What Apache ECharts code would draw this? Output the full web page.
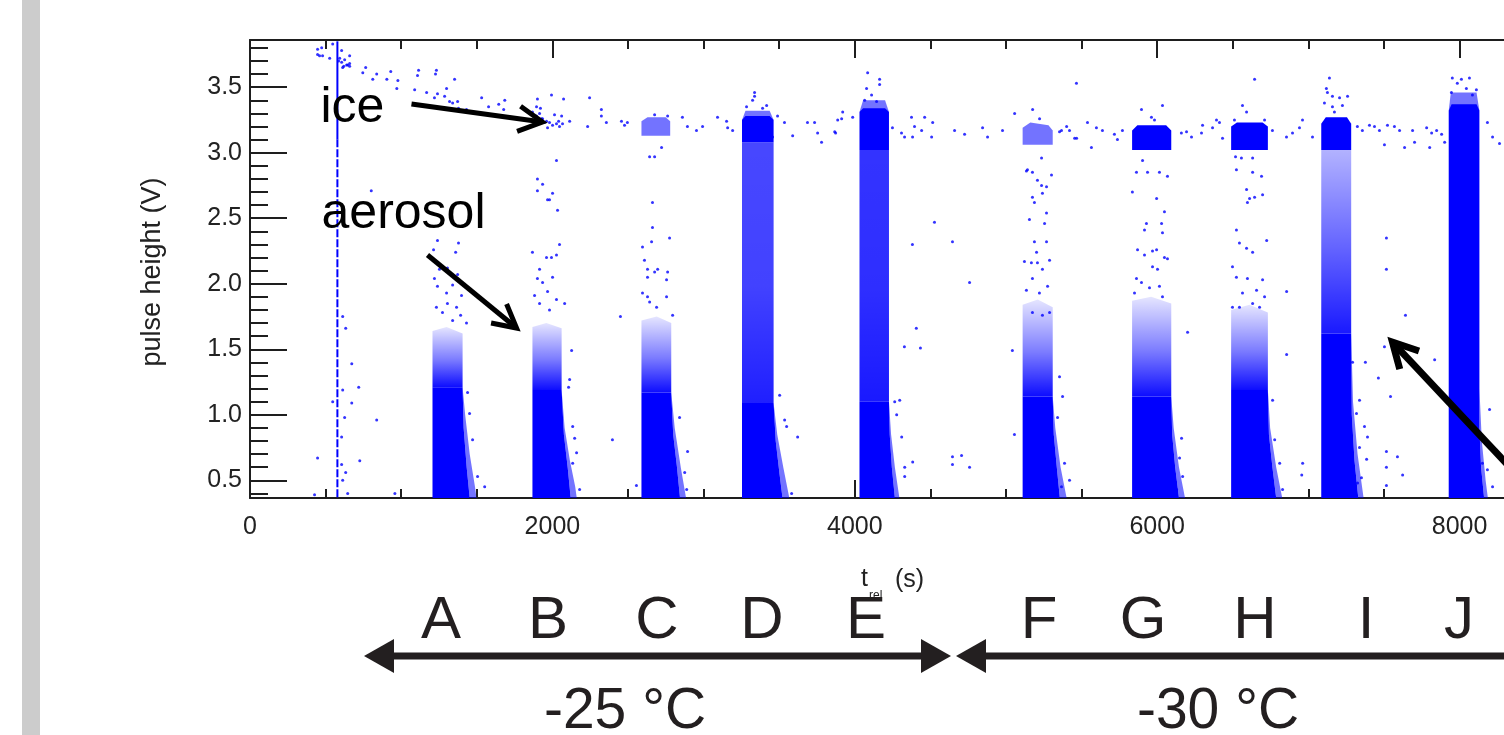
<!DOCTYPE html>
<html><head><meta charset="utf-8">
<script src="https://cdn.jsdelivr.net/npm/echarts@6/dist/echarts.min.js"></script>
<style>html,body{margin:0;padding:0;background:#fff;}#c{width:1504px;height:735px;}</style>
</head><body><div id="c"></div>
<script>
// ---------- axis ticks ----------
const yMajorTicks = [0.5, 1.0, 1.5, 2.0, 2.5, 3.0, 3.5];
const yMinorTicks = [0.4,0.6,0.7,0.8,0.9,1.1,1.2,1.3,1.4,1.6,1.7,1.8,1.9,2.1,2.2,2.3,2.4,2.6,2.7,2.8,2.9,3.1,3.2,3.3,3.4,3.6,3.7,3.8];
const runLetters = ['A','B','C','D','E','F','G','H','I','J'];
const tempLabels = ['-25 °C', '-30 °C'];

// ---------- dense point clouds (outlines, t in s, V) ----------
const denseCores = [
  [[1207,0.365],[1207,1.21],[1406,1.21],[1413,0.9],[1433,0.6],[1453,0.365]],
  [[1868,0.365],[1868,1.19],[2061,1.19],[2076,0.85],[2101,0.6],[2121,0.365]],
  [[2589,0.365],[2589,1.17],[2786,1.17],[2799,0.85],[2824,0.6],[2844,0.365]],
  [[3254,0.365],[3254,1.09],[3463,1.09],[3477,0.8],[3502,0.55],[3522,0.365]],
  [[4031,0.365],[4031,1.10],[4226,1.10],[4231,0.85],[4245,0.6],[4265,0.365]],
  [[5110,0.365],[5110,1.14],[5309,1.14],[5316,0.85],[5336,0.6],[5356,0.365]],
  [[5834,0.365],[5834,1.14],[6093,1.14],[6099,0.85],[6119,0.6],[6144,0.365]],
  [[6489,0.365],[6489,1.19],[6732,1.19],[6739,0.85],[6762,0.6],[6787,0.365]],
  [[7085,0.365],[7085,1.62],[7283,1.62],[7287,1.0],[7305,0.65],[7330,0.365]],
  [[7928,0.365],[7928,3.32],[7947,3.37],[8112,3.37],[8131,3.32],[8131,0.9],[8142,0.6],[8162,0.365]]
];
const iceCores = [
  [[3254,3.08],[3254,3.25],[3277,3.28],[3437,3.28],[3463,3.25],[3463,3.08]],
  [[4031,3.02],[4031,3.31],[4055,3.34],[4200,3.34],[4226,3.31],[4226,3.02]],
  [[5834,3.02],[5834,3.17],[5869,3.21],[6059,3.21],[6093,3.17],[6093,3.02]],
  [[6489,3.02],[6489,3.20],[6527,3.23],[6697,3.23],[6732,3.20],[6732,3.02]],
  [[7085,3.02],[7085,3.22],[7115,3.27],[7255,3.27],[7283,3.22],[7283,3.02]]
];
// speckled zone above each aerosol core, thinning out upwards
const fadePolys = [
  [[1207,1.21],[1207,1.64],[1300,1.67],[1406,1.62],[1406,1.21]],
  [[1868,1.19],[1868,1.67],[1960,1.70],[2061,1.66],[2061,1.19]],
  [[2589,1.17],[2589,1.72],[2690,1.75],[2786,1.70],[2786,1.17]],
  [[5110,1.14],[5110,1.84],[5210,1.88],[5309,1.82],[5309,1.14]],
  [[5834,1.14],[5834,1.87],[5960,1.90],[6093,1.85],[6093,1.14]],
  [[6489,1.19],[6489,1.80],[6610,1.84],[6732,1.78],[6732,1.19]]
];
// tall speckled columns of runs D, E and I
const columnPolys = [
  [[3254,1.09],[3254,3.08],[3463,3.08],[3463,1.09]],
  [[4031,1.10],[4031,3.02],[4226,3.02],[4226,1.10]],
  [[7085,1.62],[7085,3.02],[7283,3.02],[7283,1.62]]
];
// right-hand tails and smaller speckled clusters
const midPolys = [
  [[1406,1.21],[1423,1.0],[1453,0.7],[1488,0.45],[1498,0.365],[1453,0.365],[1433,0.6],[1413,0.9]],
  [[2061,1.19],[2081,0.9],[2116,0.65],[2151,0.45],[2161,0.365],[2121,0.365],[2101,0.6],[2076,0.85]],
  [[2786,1.17],[2809,0.9],[2849,0.6],[2884,0.365],[2844,0.365],[2824,0.6],[2799,0.85]],
  [[2589,3.13],[2589,3.24],[2629,3.27],[2749,3.27],[2779,3.24],[2779,3.13]],
  [[3463,1.09],[3487,0.85],[3527,0.6],[3567,0.365],[3522,0.365],[3502,0.55],[3477,0.8]],
  [[3254,3.25],[3277,3.32],[3437,3.32],[3463,3.25]],
  [[4226,1.10],[4240,0.85],[4265,0.6],[4295,0.365],[4265,0.365],[4245,0.6],[4231,0.85]],
  [[5309,1.14],[5326,0.9],[5361,0.6],[5401,0.365],[5356,0.365],[5336,0.6],[5316,0.85]],
  [[5110,3.06],[5110,3.19],[5161,3.23],[5281,3.21],[5309,3.17],[5309,3.06]],
  [[6093,1.14],[6109,0.9],[6144,0.6],[6184,0.365],[6144,0.365],[6119,0.6],[6099,0.85]],
  [[6732,1.19],[6747,0.9],[6787,0.6],[6827,0.365],[6787,0.365],[6762,0.6],[6739,0.85]],
  [[7283,1.62],[7295,1.1],[7325,0.7],[7365,0.365],[7330,0.365],[7305,0.65],[7287,1.0]],
  [[7928,3.32],[7942,3.46],[8112,3.46],[8131,3.32]],
  [[8131,1.2],[8147,0.8],[8172,0.5],[8187,0.365],[8162,0.365],[8142,0.6],[8131,0.9]],
  [[4031,3.31],[4055,3.40],[4200,3.40],[4226,3.31]]
];

// ---------- vertical trace at t ≈ 578 s ----------
const spikeSolid = [[578,3.10],[578,3.85]];
const spikeDashed = [[578,0.37],[578,3.10]];

// ---------- individual sparse points ----------
const icePts = [
  [460,3.74],[474,3.80],[480,3.74],[527,3.72],[547,3.83],[606,3.78],[659,3.74],[613,3.65],[639,3.67],[659,3.66],[586,3.70],
  [746,3.61],[765,3.65],[812,3.56],[838,3.60],[905,3.56],[931,3.62],[978,3.55],[971,3.49],[1089,3.48],[1108,3.59],[1115,3.63],
  [1233,3.63],[1227,3.60],[1168,3.46],[1240,3.45],[1220,3.42],[1300,3.49],[1287,3.43],[1320,3.39],[1353,3.56],[1340,3.38],
  [1373,3.39],[1379,3.34],[1432,3.33],[1532,3.42],[1578,3.35],[1645,3.37],[1685,3.40],[1678,3.33],[1895,3.35],[1901,3.41],
  [1921,3.34],[1994,3.44],[2074,3.41],[2114,3.24],[2246,3.42],[2233,3.20],[2324,3.33],[2324,3.28],[2357,3.23],[2457,3.24],
  [2477,3.21],[2496,3.23],
  [593,3.72],[606,3.69],[626,3.71],[646,3.67],[620,3.66],[659,3.68],[447,3.79],[447,3.75],
  [1868,3.31],[1895,3.28],[1915,3.30],[1935,3.26],[1961,3.24],[1981,3.23],[2001,3.21],[2027,3.22],[2041,3.24],[2061,3.28],
  [2014,3.29],[1968,3.19],[1948,3.23],[1928,3.26],[1895,3.24],[2047,3.20],[2067,3.22],
  [2643,2.97],[2676,2.97],[2722,3.04],[2676,3.29],[2762,3.28],
  [2860,3.27],[2893,3.20],[2953,3.17],[2993,3.20],[3092,3.27],[3152,3.24],[3159,3.19],[3192,3.17],
  [3284,3.35],[3337,3.43],[3324,3.40],[3390,3.34],[3417,3.36],[3337,3.46],[3489,3.28],[3589,3.13],[3456,3.12],
  [3535,3.23],[3687,3.23],[3734,3.23],[3754,3.15],[3780,3.08],[3867,3.16],[3887,3.25],[3920,3.31],[3913,3.26],[3986,3.27],[3873,3.15],
  [4085,3.61],[4164,3.56],[4164,3.52],[4078,3.49],[4144,3.39],[4065,3.40],[4111,3.44],
  [4249,3.19],[4309,3.15],[4329,3.12],[4375,3.27],[4395,3.20],[4442,3.17],[4462,3.27],[4515,3.23],[4382,3.12],[4508,3.12],
  [4660,3.17],[4726,3.14],[4845,3.19],[4878,3.12],
  [4977,3.17],[5057,3.30],[5176,3.33],[5222,3.26],[5367,3.17],[5401,3.20],[5454,3.11],[5354,3.16],[5420,3.17],[5467,3.11],
  [5539,3.23],[5598,3.19],[5638,3.17],[5565,3.04],[5717,3.14],[5737,3.10],[5770,3.17],[5466,3.53],
  [5896,3.33],[6035,3.36],[5962,3.27],[5982,3.25],
  [6160,3.15],[6194,3.16],[6227,3.12],[6300,3.21],[6366,3.19],[6412,3.23],[6432,3.11],[6293,3.15],[6392,3.25],
  [6644,3.56],[6564,3.36],[6591,3.31],[6511,3.25],[6710,3.25],
  [6762,3.17],[6855,3.12],[6895,3.15],[6961,3.25],[7027,3.12],[6941,3.19],
  [7139,3.57],[7119,3.49],[7126,3.46],[7159,3.43],[7206,3.42],[7259,3.43],[7106,3.38],[7159,3.35],[7225,3.36],[7172,3.31],
  [7324,3.20],[7357,3.17],[7404,3.21],[7437,3.20],[7470,3.17],[7523,3.21],[7503,3.06],[7569,3.20],[7603,3.17],[7636,3.04],
  [7689,3.17],[7702,3.08],[7782,3.19],[7815,3.15],[7802,3.04],[7848,3.17],[7881,3.14],[7901,3.08],
  [7952,3.57],[8012,3.56],[8065,3.57],[7985,3.53],[8045,3.49],[8111,3.48],[7946,3.46],[8085,3.44],
  [8184,3.23],[8218,3.12],[8264,3.07],
  [673,3.27],[802,2.71]
];
const aerosolPts = [
  [1240,2.33],[1379,2.31],[1360,2.24],[1214,2.26],[1253,2.11],[1306,2.12],[1373,2.07],[1220,2.04],[1240,1.98],[1300,1.93],
  [1340,1.99],[1399,1.91],[1233,1.82],[1306,1.85],[1366,1.82],[1393,1.76],[1273,1.78],[1340,1.72],[1432,1.70],[1439,1.17],
  [1452,1.01],[1472,0.81],[1505,0.53],[1552,0.45],
  [1868,2.24],[2027,2.22],[1961,2.20],[1994,2.20],[2047,2.30],[2034,2.56],[1981,2.64],[1915,2.11],[2001,2.05],[1901,2.04],
  [1935,2.01],[1882,1.91],[1968,1.94],[2081,1.85],[2027,1.88],[1915,1.85],[1981,1.80],[2127,1.49],[2114,1.27],[2107,1.21],
  [2134,0.91],[2147,0.82],[2160,0.71],[2134,0.63],[2180,0.43],[1901,2.80],[1935,2.76],[1901,2.71],[1968,2.64],[2001,2.69],[2027,2.94],
  [2596,2.28],[2609,2.18],[2629,2.11],[2676,2.09],[2696,2.11],[2762,2.09],[2755,2.03],[2629,2.05],[2596,1.93],[2629,1.90],
  [2643,1.86],[2689,1.82],[2755,1.90],[2795,1.76],[2662,2.43],[2656,2.32],[2775,2.35],[2662,2.62],[2450,1.75],[2397,0.81],
  [2841,0.98],[2894,0.72],[2875,0.56],[2888,0.43],[2556,0.46],
  [3503,1.15],[3536,0.96],[3549,0.91],[3582,0.40],[3622,0.83],
  [4264,1.10],[4297,1.11],[4277,1.00],[4310,0.83],[4330,0.60],[4383,0.64],[4330,0.53],
  [4527,2.47],[4381,2.30],[4646,2.32],[4759,2.01],[4407,1.66],[4328,1.52],[4434,1.51],[4646,0.68],[4706,0.69],[4646,0.62],[4759,0.60],
  [5142,2.87],[5175,2.85],[5301,2.83],[5208,2.79],[5235,2.75],[5268,2.74],[5241,2.69],[5175,2.66],[5188,2.62],[5268,2.54],
  [5155,2.49],[5255,2.46],[5188,2.32],[5268,2.32],[5202,2.24],[5122,2.17],[5168,2.16],[5208,2.16],[5241,2.11],[5288,2.18],
  [5175,2.04],[5275,1.98],[5135,1.95],[5221,1.93],[5175,1.78],[5241,1.76],[5288,1.78],[5235,2.96],[5135,2.86],[5354,1.29],
  [5374,1.14],[5341,0.98],[5387,0.63],[5420,0.50],[5367,0.45],[5056,0.85],[5042,1.49],
  [5903,2.94],[5863,2.85],[5936,2.85],[6015,2.85],[6068,2.82],[5836,2.70],[5996,2.65],[6048,2.55],[6029,2.46],[5929,2.46],
  [6035,2.39],[5916,2.41],[5870,2.26],[5969,2.25],[5996,2.26],[5916,2.22],[6048,2.20],[6068,2.19],[5863,2.04],[5969,2.13],
  [6002,2.11],[5896,2.01],[5949,1.97],[5850,1.93],[6035,1.90],[6015,1.98],[6201,1.63],[6161,0.82],[6148,0.67],[6168,0.53],[6128,0.43],
  [6557,2.96],[6631,2.96],[6518,2.97],[6524,2.87],[6631,2.85],[6690,2.82],[6591,2.72],[6611,2.65],[6644,2.66],[6697,2.68],
  [6597,2.62],[6524,2.41],[6544,2.31],[6591,2.27],[6631,2.24],[6724,2.33],[6498,2.13],[6524,2.05],[6597,2.04],[6697,2.03],
  [6657,1.95],[6564,1.93],[6710,1.90],[6498,1.82],[6544,1.82],[6631,1.85],[6677,1.82],[6856,1.94],[6856,1.46],[6763,1.11],
  [6777,0.81],[6810,0.63],[6829,0.43],[6962,0.63],[6956,0.54],
  [7292,1.40],[7338,1.11],[7318,1.01],[7371,0.91],[7338,0.75],[7385,0.66],[7351,0.52],[7325,0.48],[7391,0.83],
  [7516,2.35],[7516,2.11],[7642,1.76],[7503,1.52],[7835,1.42],[7377,1.40],[7463,1.28],[7543,1.14],[7516,0.72],[7589,0.68],
  [7516,0.46],[7623,0.54],[7516,0.60],
  [8198,1.04],[8184,0.58],[8218,0.45],[8151,0.63],
  [613,1.75],[633,1.66],[673,1.39],[613,1.19],[719,1.21],[547,1.10],[673,1.09],[626,0.98],[838,0.96],[606,0.83],
  [447,0.67],[726,0.65],[606,0.62],[633,0.56],[613,0.50],[427,0.39],[646,0.40],[958,0.40]
];

// ---------- annotation anchors (data coordinates) ----------
const iceArrow = [[1068,3.372],[1934,3.234]];
const aerosolArrow = [[1174,2.219],[1763,1.662]];
const rightArrow = [[8462,0.441],[7556,1.555]];
const iceLabelAt = [466,3.337];
const aerosolLabelAt = [473,2.528];

// ---------- chart ----------
const BLUE = '#0000ff';
const AX = '#1e1e1e';
const FONT = '"Liberation Sans", Arial, sans-serif';
const chart = echarts.init(document.getElementById('c'), null, {renderer:'canvas'});
const LG = echarts.graphic.LinearGradient;
const grad = (top, mid, bottom) => new LG(0, 0, 0, 1, [
  {offset:0, color:'rgba(0,0,255,' + top + ')'},
  {offset:0.55, color:'rgba(0,0,255,' + mid + ')'},
  {offset:1, color:'rgba(0,0,255,' + bottom + ')'}
]);

function polySeries(name, polys, fillFn, z){
  return {
    name, type:'custom', xAxisIndex:0, yAxisIndex:0, silent:true, animation:false, clip:true, z,
    data: polys.map(p => p[0]),
    renderItem: (params, api) => ({
      type:'polygon',
      shape:{points: polys[params.dataIndex].map(pt => api.coord(pt))},
      style:{fill: fillFn(params.dataIndex), stroke: null}
    })
  };
}
const columnFills = [grad(0.72, 0.74, 0.88), grad(0.8, 0.82, 0.9), grad(0.3, 0.62, 0.9)];

const lineStyle = {color: AX, width: 2};
const xCommon = {
  type:'value', min:0, max:10000, interval:2000,
  axisLine:{show:true, onZero:false, lineStyle},
  axisTick:{show:true, inside:true, length:18, lineStyle},
  minorTick:{show:true, splitNumber:4, length:9, lineStyle},
  splitLine:{show:false}, minorSplitLine:{show:false}
};

const option = {
  animation:false,
  backgroundColor:'#ffffff',
  textStyle:{fontFamily: FONT},
  grid:{left:250, top:40, width:1512, height:458, containLabel:false, outerBoundsMode:'none'},
  xAxis:[
    Object.assign({}, xCommon, {position:'bottom',
      axisLabel:{show:true, color:'#222', fontSize:25, fontFamily:FONT, margin:17, formatter: v => String(v)}}),
    Object.assign({}, xCommon, {position:'top', axisLabel:{show:false}})
  ],
  yAxis:[
    {type:'value', position:'left', min:0.365, max:3.86,
     axisLine:{show:true, onZero:false, lineStyle},
     axisTick:{show:true, inside:true, length:37, customValues: yMajorTicks, lineStyle},
     axisLabel:{show:true, customValues: yMajorTicks, formatter: v => Number(v).toFixed(1),
                color:'#222', fontSize:25, fontFamily:FONT, margin:8},
     splitLine:{show:false}},
    {type:'value', position:'left', min:0.365, max:3.86,
     axisLine:{show:false},
     axisTick:{show:true, inside:true, length:18, customValues: yMinorTicks, lineStyle},
     axisLabel:{show:false}, splitLine:{show:false}}
  ],
  series:[
    polySeries('fade', fadePolys, () => grad(0.1, 0.52, 0.95), 1),
    polySeries('column', columnPolys, i => columnFills[i], 2),
    polySeries('mid', midPolys, () => 'rgba(0,0,255,0.55)', 2),
    polySeries('core', denseCores, () => BLUE, 4),
    polySeries('iceCore', iceCores, () => BLUE, 4),
    {type:'line', data: spikeSolid, xAxisIndex:0, yAxisIndex:0, showSymbol:false, silent:true, z:5,
     lineStyle:{color:BLUE, width:2}},
    {type:'line', data: spikeDashed, xAxisIndex:0, yAxisIndex:0, showSymbol:false, silent:true, z:5,
     lineStyle:{color:BLUE, width:2, type:[8,2]}},
    {type:'scatter', data: icePts, xAxisIndex:0, yAxisIndex:0, symbol:'circle', symbolSize:3, silent:true, z:6,
     itemStyle:{color:BLUE}},
    {type:'scatter', data: aerosolPts, xAxisIndex:0, yAxisIndex:0, symbol:'circle', symbolSize:3, silent:true, z:6,
     itemStyle:{color:BLUE}}
  ]
};
chart.setOption(option);

// ---------- annotations ----------
const toPx = p => chart.convertToPixel({gridIndex:0}, p);
function arrow(fromD, toD, width, headLen, headAng){
  const f = toPx(fromD), t = toPx(toD);
  const a = Math.atan2(t[1]-f[1], t[0]-f[0]);
  const p1 = [t[0]-headLen*Math.cos(a-headAng), t[1]-headLen*Math.sin(a-headAng)];
  const p2 = [t[0]-headLen*Math.cos(a+headAng), t[1]-headLen*Math.sin(a+headAng)];
  return [
    {type:'line', silent:true, z:100, shape:{x1:f[0],y1:f[1],x2:t[0],y2:t[1]}, style:{stroke:'#000', lineWidth:width}},
    {type:'polyline', silent:true, z:100, shape:{points:[p1,t,p2]}, style:{stroke:'#000', lineWidth:width, lineJoin:'miter', fill:null}}
  ];
}
function txt(x, y, text, size, align, color, extra){
  return Object.assign({type:'text', x, y, silent:true, z:100,
    style:{text, font: size + 'px ' + FONT, fill: color || '#231f20', align: align || 'center', verticalAlign:'middle'}}, extra || {});
}
const ip = toPx(iceLabelAt), ap = toPx(aerosolLabelAt);
const letterX = [441, 548, 657, 762, 866, 1039, 1143, 1255, 1366, 1459];
const DARK = '#231f20';
const graphics = [
  {type:'rect', silent:true, z:0, shape:{x:22, y:0, width:18, height:735}, style:{fill:'#cccccc'}},
  txt(ip[0], ip[1], 'ice', 50, 'left', '#000'),
  txt(ap[0], ap[1], 'aerosol', 50, 'left', '#000'),
  ...arrow(iceArrow[0], iceArrow[1], 5, 27, 0.49),
  ...arrow(aerosolArrow[0], aerosolArrow[1], 5, 26, 0.49),
  ...arrow(rightArrow[0], rightArrow[1], 7, 28, 0.49),
  txt(153, 272, 'pulse height (V)', 27, 'center', '#222', {rotation: Math.PI/2}),
  txt(861, 579, 't', 25, 'left', '#222'),
  txt(869, 596, 'rel', 12, 'left', '#222'),
  txt(895, 580, '(s)', 25, 'left', '#222'),
  // bottom temperature ranges
  {type:'line', silent:true, shape:{x1:392,y1:656,x2:923,y2:656}, style:{stroke:DARK, lineWidth:7}},
  {type:'polygon', silent:true, shape:{points:[[364,656],[394,639],[394,673]]}, style:{fill:DARK}},
  {type:'polygon', silent:true, shape:{points:[[951,656],[921,639],[921,673]]}, style:{fill:DARK}},
  {type:'line', silent:true, shape:{x1:985,y1:656,x2:1510,y2:656}, style:{stroke:DARK, lineWidth:7}},
  {type:'polygon', silent:true, shape:{points:[[956,656],[986,639],[986,673]]}, style:{fill:DARK}},
  txt(625, 712, tempLabels[0], 57, 'center', DARK),
  txt(1218, 712, tempLabels[1], 57, 'center', DARK)
];
runLetters.forEach((L, i) => graphics.push(txt(letterX[i], 621, L, 60, 'center', DARK)));
chart.setOption({graphic: graphics});
</script></body></html>
